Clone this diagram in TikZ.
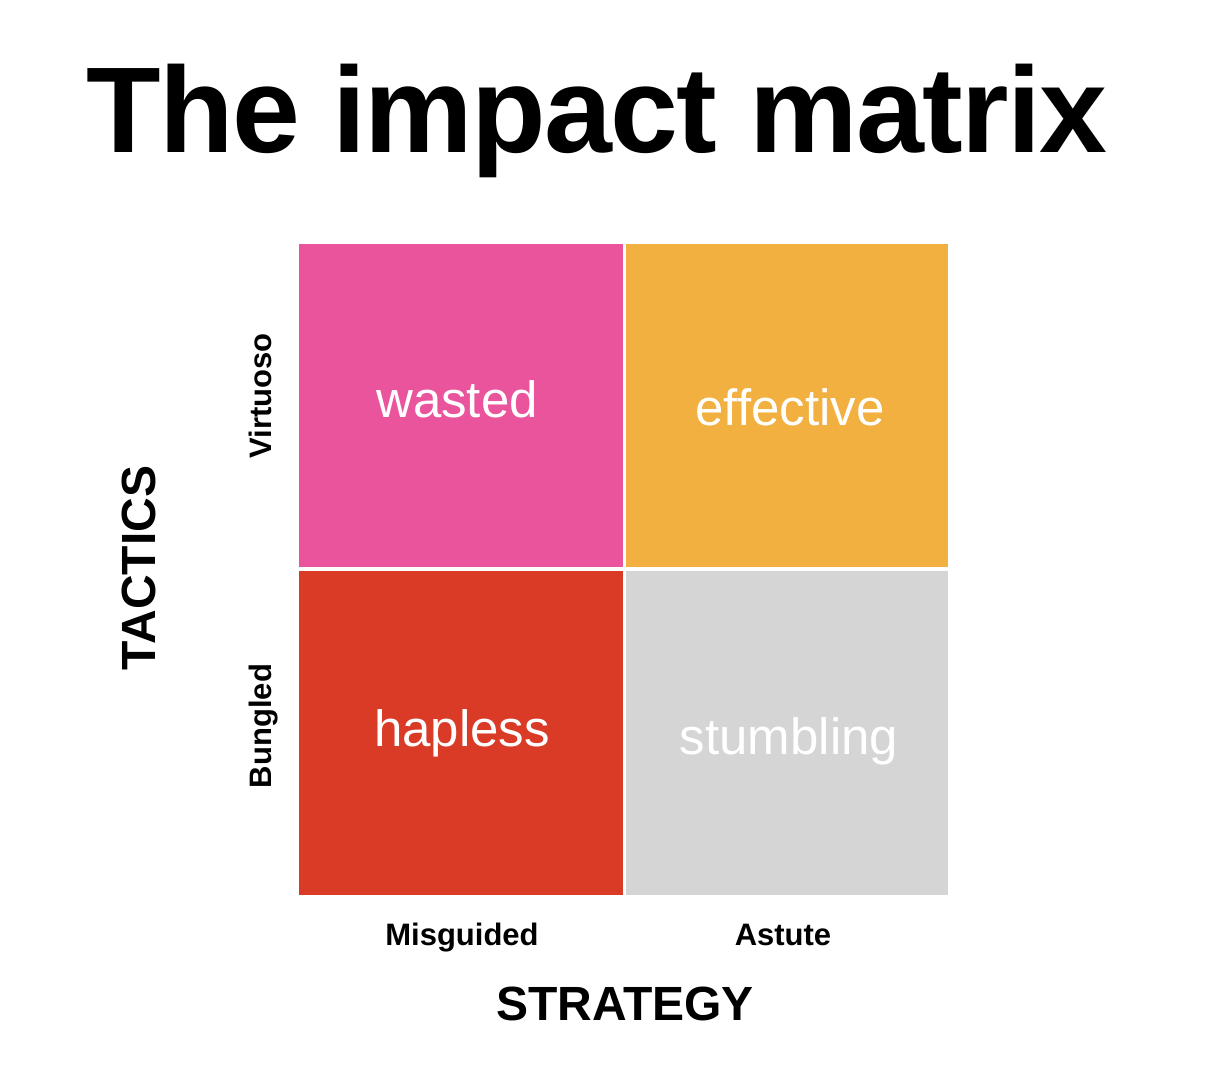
\documentclass[tikz,border=0pt]{standalone}
\usepackage{fontspec}
\setmainfont{Liberation Sans}
\newfontfamily\titlefont[LetterSpace=-1.4]{Liberation Sans}
\definecolor{cpink}{HTML}{EA549C}
\definecolor{corange}{HTML}{F1B03F}
\definecolor{cred}{HTML}{D93B27}
\definecolor{cgray}{HTML}{D5D5D5}
\tikzset{
  celltext/.style={anchor=base, text=white, inner sep=0pt, font=\fontsize{51}{60}\selectfont},
  ticklabel/.style={anchor=base, inner sep=0pt, font=\bfseries\fontsize{31}{36}\selectfont},
  axislabel/.style={anchor=base, inner sep=0pt, font=\bfseries\fontsize{48}{56}\selectfont},
}
\begin{document}
\begin{tikzpicture}[x=1pt,y=-1pt]
\useasboundingbox[fill=white] (0,0) rectangle (1206,1066);
% title
\node[anchor=base, inner sep=0pt, font=\titlefont\bfseries\fontsize{122}{130}\selectfont] (title) at (597,152) {The impact matrix};
% cells
\fill[cpink]   (299,244) rectangle (623,567);
\fill[corange] (626,244) rectangle (948,567);
\fill[cred]    (299,571) rectangle (623,895);
\fill[cgray]   (626,571) rectangle (948,895);
\node[celltext] (wasted) at (457,417) {wasted};
\node[celltext] (effective) at (790,425) {effective};
\node[celltext] (hapless) at (462,746) {hapless};
\node[celltext] (stumbling) at (789,754) {stumbling};
% tick labels
\node[ticklabel] (misguided) at (462,945) {Misguided};
\node[ticklabel] (astute) at (783,945) {Astute};
\node[ticklabel, rotate=90] (virtuoso) at (271,396) {Virtuoso};
\node[ticklabel, rotate=90] (bungled) at (271,726) {Bungled};
% axis labels
\node[axislabel] (strategy) at (625,1020) {STRATEGY};
\node[axislabel, rotate=90] (tactics) at (155,568) {TACTICS};
\end{tikzpicture}
\end{document}
